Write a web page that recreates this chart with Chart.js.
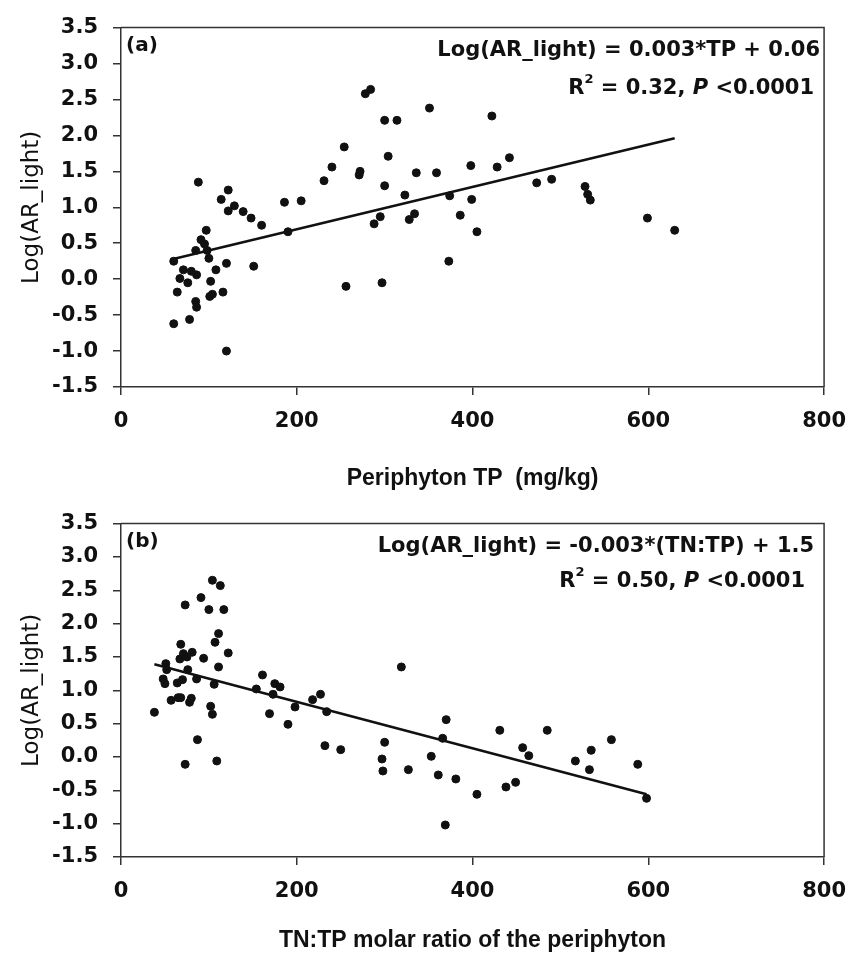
<!DOCTYPE html>
<html>
<head>
<meta charset="utf-8">
<script src="https://cdn.jsdelivr.net/npm/chart.js@4.4.1/dist/chart.umd.min.js"></script>
<style>
  body { margin: 0; background: #fff; }
  #wrap { position: relative; width: 860px; height: 954px; }
  canvas { position: absolute; left: 0; }
</style>
</head>
<body>
<div id="wrap">
  <canvas id="chartA" width="860" height="496" style="top:0"></canvas>
  <canvas id="chartB" width="860" height="458" style="top:496px"></canvas>
</div>
<script>
// Panel (a): periphyton TP vs Log(AR_light)
const tpA = [60, 60, 64, 67, 71, 76, 80, 78, 85, 86, 85, 86, 88, 91, 95, 97, 98, 100, 102, 101,
    104, 108, 114, 116, 120, 120, 122, 122, 129, 139, 148, 151, 160, 186, 190, 205, 231, 240, 254, 256,
    271, 272, 278, 284, 288, 295, 297, 300, 300, 304, 314, 323, 328, 334, 336, 351, 359, 373, 374, 386,
    398, 399, 405, 422, 428, 442, 473, 490, 528, 531, 534, 599, 630];
const logArA = [0.25, -0.62, -0.18, 0.01, 0.13, -0.05, 0.11, -0.56, 0.40, 0.06, -0.31, -0.39, 1.35, 0.55, 0.49, 0.68, 0.40, 0.29, -0.03, -0.24,
    -0.21, 0.13, 1.11, -0.18, 0.22, -1.00, 1.24, 0.95, 1.02, 0.94, 0.85, 0.18, 0.75, 1.07, 0.66, 1.09, 1.37, 1.56, 1.84, -0.10,
    1.45, 1.50, 2.58, 2.64, 0.77, 0.87, -0.05, 2.21, 1.30, 1.71, 2.21, 1.17, 0.83, 0.91, 1.48, 2.38, 1.48, 0.25, 1.16, 0.89,
    1.58, 1.11, 0.66, 2.27, 1.56, 1.69, 1.34, 1.39, 1.29, 1.18, 1.10, 0.85, 0.68];
const fitAx = [56, 630];
const fitAy = [0.27, 1.96];

// Panel (b): TN:TP molar ratio vs Log(AR_light)
const ratioB = [38, 48, 50, 51, 52, 57, 64, 65, 68, 68, 67, 70, 71, 73, 73, 75, 76, 78, 80, 81,
    86, 87, 91, 94, 100, 102, 104, 104, 106, 107, 109, 111, 111, 113, 117, 122, 154, 161, 169, 173,
    175, 181, 190, 198, 218, 227, 232, 234, 250, 297, 298, 300, 319, 327, 353, 361, 366, 369, 370, 381,
    405, 431, 438, 449, 457, 464, 485, 517, 533, 535, 558, 588, 598];
const logArB = [0.67, 1.17, 1.10, 1.40, 1.31, 0.85, 1.11, 0.89, 0.89, 1.69, 1.47, 1.16, 1.55, 2.28, -0.11, 1.50, 1.31, 0.82, 0.88, 1.57,
    1.17, 0.26, 2.39, 1.48, 2.21, 0.76, 0.64, 2.65, 1.09, 1.72, -0.06, 1.35, 1.85, 2.57, 2.21, 1.56, 1.02, 1.23, 0.65, 0.94,
    1.10, 1.05, 0.49, 0.75, 0.86, 0.94, 0.17, 0.68, 0.11, -0.03, -0.21, 0.22, 1.35, -0.19, 0.01, -0.27, 0.28, -1.02, 0.56, -0.33,
    -0.56, 0.40, -0.45, -0.38, 0.14, 0.02, 0.40, -0.06, -0.19, 0.10, 0.26, -0.11, -0.62];
const fitBx = [38, 598];
const fitBy = [1.39, -0.56];

// shared axes
const xTicks = [0, 200, 400, 600, 800];
const yTicks = [-1.5, -1.0, -0.5, 0.0, 0.5, 1.0, 1.5, 2.0, 2.5, 3.0, 3.5];

const INK = '#111';
const AXIS = '#333';
const BOLD = '"DejaVu Sans", sans-serif';

const toPoints = (xs, ys) => xs.map((x, i) => ({ x: x, y: ys[i] }));

// frame on top/right plus the in-panel text
const panelText = {
    id: 'panelText',
    afterDraw(chart, args, opts) {
        const { ctx, chartArea: a } = chart;
        ctx.save();
        ctx.strokeStyle = AXIS;
        ctx.lineWidth = 1.5;
        ctx.beginPath();
        ctx.moveTo(a.left, a.top);
        ctx.lineTo(a.right, a.top);
        ctx.lineTo(a.right, a.bottom);
        ctx.stroke();

        ctx.fillStyle = INK;
        ctx.textBaseline = 'middle';
        ctx.textAlign = 'left';
        ctx.font = 'bold 20px ' + BOLD;
        ctx.fillText(opts.tag, a.left + 5, a.top + 18);

        ctx.textAlign = 'right';
        ctx.font = 'bold 21px ' + BOLD;
        ctx.fillText(opts.eq, a.right - opts.eqInset, a.top + 23);

        // R^2 line, drawn right to left
        let x = a.right - opts.statInset;
        const y = a.top + opts.statDy;
        const parts = [
            { t: ' <0.0001', f: 'bold 21px ' + BOLD, dy: 0 },
            { t: 'P', f: 'italic bold 21px ' + BOLD, dy: 0 },
            { t: ' = ' + opts.r2 + ', ', f: 'bold 21px ' + BOLD, dy: 0 },
            { t: '2', f: 'bold 13px ' + BOLD, dy: -9 },
            { t: 'R', f: 'bold 21px ' + BOLD, dy: 0 }
        ];
        parts.forEach(p => {
            ctx.font = p.f;
            ctx.fillText(p.t, x, y + p.dy);
            x -= ctx.measureText(p.t).width;
        });
        ctx.restore();
    }
};

function makeChart(id, pts, fit, cfg) {
    return new Chart(document.getElementById(id), {
        type: 'scatter',
        data: {
            datasets: [{
                data: pts,
                backgroundColor: INK,
                borderColor: INK,
                pointRadius: 4,
                pointHoverRadius: 4
            }, {
                data: fit,
                showLine: true,
                borderColor: INK,
                borderWidth: 2.5,
                pointRadius: 0
            }]
        },
        plugins: [panelText],
        options: {
            responsive: false,
            animation: false,
            layout: { padding: { top: cfg.padTop, right: 33, left: 0, bottom: 0 } },
            plugins: {
                legend: { display: false },
                tooltip: { enabled: false },
                panelText: cfg.text
            },
            scales: {
                x: {
                    type: 'linear',
                    min: 0,
                    max: 800,
                    afterBuildTicks: s => { s.ticks = xTicks.map(v => ({ value: v })); },
                    afterFit: s => { s.height = cfg.xHeight; },
                    ticks: {
                        color: INK,
                        font: { family: BOLD, size: 21, weight: 'bold' },
                        padding: 14,
                        maxRotation: 0
                    },
                    grid: { drawOnChartArea: false, tickLength: 8, color: AXIS, lineWidth: 1.5 },
                    border: { color: AXIS, width: 1.5 },
                    title: {
                        display: true,
                        text: cfg.xTitle,
                        color: INK,
                        font: { family: '"Liberation Sans", Arial, sans-serif', size: 23, weight: 'bold' },
                        padding: { top: 0, bottom: cfg.titlePad }
                    }
                },
                y: {
                    min: -1.5,
                    max: 3.5,
                    afterBuildTicks: s => { s.ticks = yTicks.map(v => ({ value: v })); },
                    afterFit: s => { s.width = 121; },
                    ticks: {
                        color: INK,
                        font: { family: BOLD, size: 21, weight: 'bold' },
                        padding: 15,
                        callback: v => v.toFixed(1)
                    },
                    grid: { drawOnChartArea: false, tickLength: 8, color: AXIS, lineWidth: 1.5 },
                    border: { color: AXIS, width: 1.5 },
                    title: {
                        display: true,
                        text: 'Log(AR_light)',
                        color: INK,
                        font: { family: '"DejaVu Sans", sans-serif', size: 23 },
                        padding: { top: 18, bottom: 0 }
                    }
                }
            }
        }
    });
}

makeChart('chartA', toPoints(tpA, logArA), toPoints(fitAx, fitAy), {
    padTop: 22,
    xHeight: 109,
    titlePad: 4,
    xTitle: 'Periphyton TP  (mg/kg)',
    text: {
        tag: '(a)',
        eq: 'Log(AR_light) = 0.003*TP + 0.06',
        eqInset: 4,
        r2: '0.32',
        statInset: 10,
        statDy: 61
    }
});

makeChart('chartB', toPoints(ratioB, logArB), toPoints(fitBx, fitBy), {
    padTop: 16,
    xHeight: 97,
    titlePad: 0,
    xTitle: 'TN:TP molar ratio of the periphyton',
    text: {
        tag: '(b)',
        eq: 'Log(AR_light) = -0.003*(TN:TP) + 1.5',
        eqInset: 10,
        r2: '0.50',
        statInset: 19,
        statDy: 58
    }
});
</script>
</body>
</html>
